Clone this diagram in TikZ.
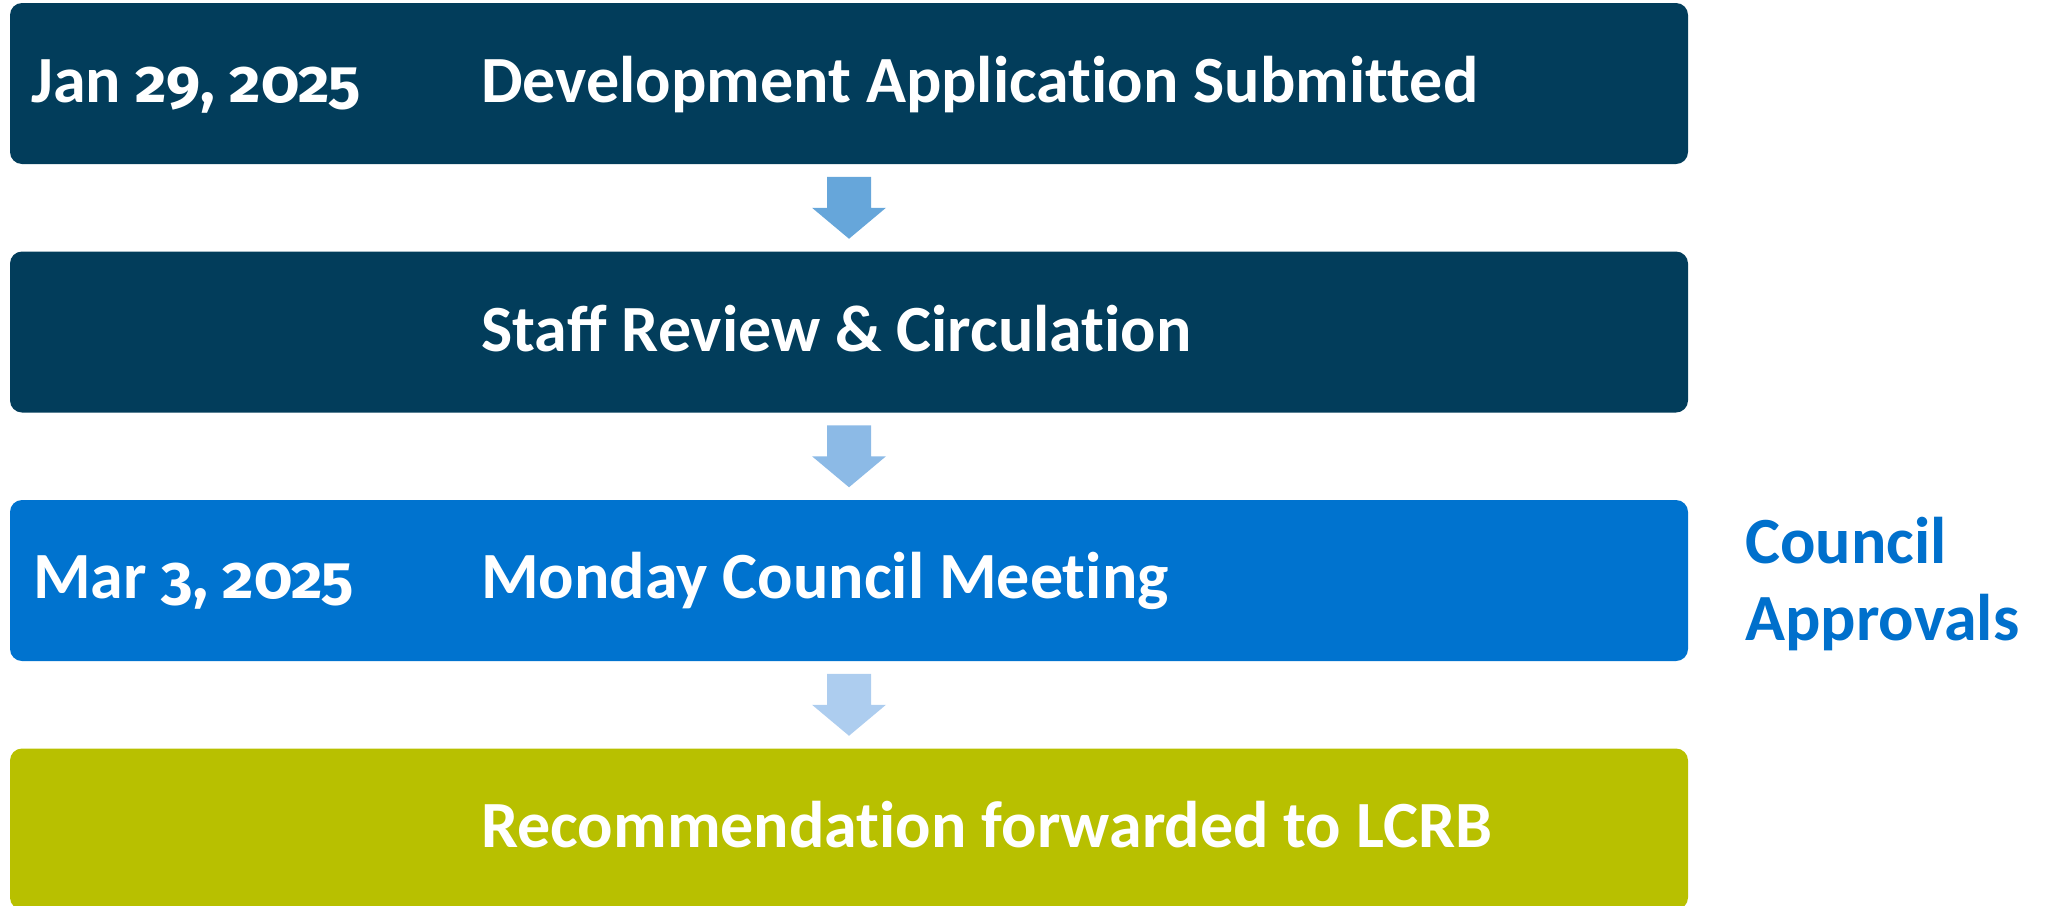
\documentclass[tikz,border=0pt]{standalone}
\usepackage{fontspec}
\setmainfont{Carlito}[Ligatures={NoCommon}]
\newfontfamily\oldnum{Fira Sans}[Numbers=OldStyle]
\newcommand{\onum}[1]{{\oldnum\fontsize{61}{70}\selectfont #1}}
\usetikzlibrary{calc}
\definecolor{navy}{HTML}{023D5B}
\definecolor{boxblue}{HTML}{0073CF}
\definecolor{boxgreen}{HTML}{B8C000}
\definecolor{arrA}{HTML}{66A6DA}
\definecolor{arrB}{HTML}{8CBAE6}
\definecolor{arrC}{HTML}{ADCDEF}
\definecolor{sidetext}{HTML}{0070CC}
\tikzset{
  stagebox/.style={rectangle, rounded corners=12pt, minimum width=1678pt, minimum height=161pt, inner sep=0pt, outer sep=0pt},
  boxtext/.style={anchor=base west, inner sep=0pt, text=white, font=\fontsize{66}{70}\selectfont\bfseries},
  sidelabel/.style={anchor=base west, inner sep=0pt, text=sidetext, font=\fontsize{66}{77}\selectfont\bfseries},
}
\begin{document}
\begin{tikzpicture}[x=1pt, y=-1pt]
\useasboundingbox (0,0) rectangle (2047,905);
\node[stagebox, fill=navy] (b1) at (849,83.5) {};
\node[stagebox, fill=navy] (b2) at (849,332) {};
\node[stagebox, fill=boxblue] (b3) at (849,580.5) {};
\node[stagebox, fill=boxgreen] (b4) at (849,829) {};
\node[boxtext] (d1) at (31,102) {Jan \onum{29,} \onum{2025}};
\node[boxtext] (t1) at (481,102) {Development Application Submitted};
\node[boxtext] (t2) at (481,351) {Sta{\addfontfeatures{Ligatures=Common}ff} Review \& Circulation};
\node[boxtext] (d3) at (33,598) {Mar \onum{3,} \onum{2025}};
\node[boxtext] (t3) at (481,598) {Monday Council Meeting};
\node[boxtext] (t4) at (481,847) {Recommendation forwarded to LCRB};
\node[sidelabel] (s1) at (1745,563) {Council};
\node[sidelabel] (s2) at (1745,640) {Approvals};
\coordinate (m1) at ($(b1.south)!0.5!(b2.north)$);
\coordinate (m2) at ($(b2.south)!0.5!(b3.north)$);
\coordinate (m3) at ($(b3.south)!0.5!(b4.north)$);
\foreach \m/\c in {m1/arrA, m2/arrB, m3/arrC}{
  \fill[\c] (\m) ++(-22,-31) -- ++(44,0) -- ++(0,31) -- ++(15,0) -- ++(-37,31) -- ++(-37,-31) -- ++(15,0) -- cycle;
}
\end{tikzpicture}
\end{document}
